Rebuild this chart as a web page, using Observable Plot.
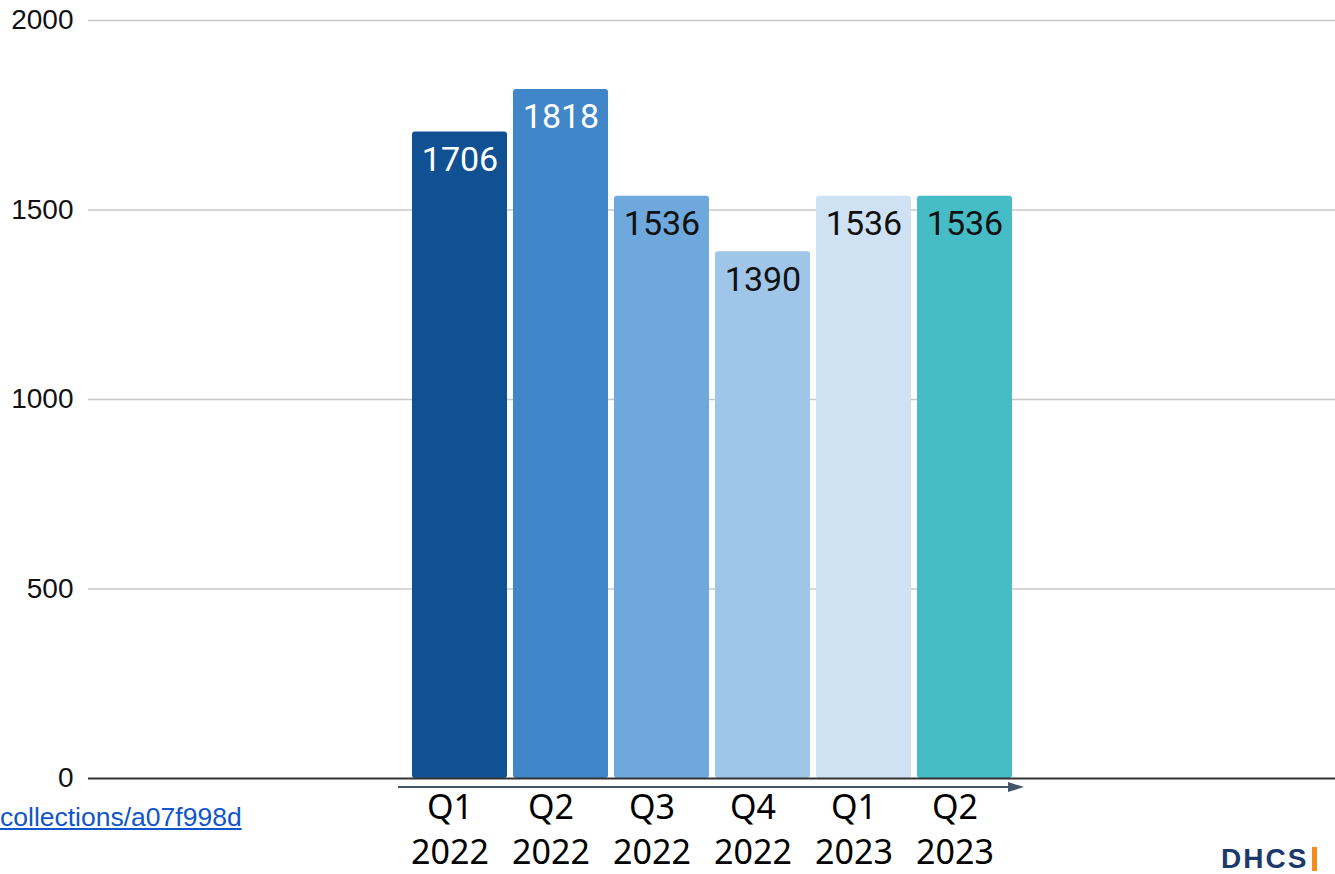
<!DOCTYPE html>
<html>
<head>
<meta charset="utf-8">
<script src="https://cdn.jsdelivr.net/npm/d3@7"></script>
<script src="https://cdn.jsdelivr.net/npm/@observablehq/plot@0.6"></script>
<style>
  html, body { margin: 0; padding: 0; background: #fff; overflow: hidden; }
  #wrap { position: relative; width: 1335px; height: 874px; }
  #link { position: absolute; left: 0; top: 802px; font-family: "Liberation Sans", Arial, sans-serif; font-size: 26.5px; color: #1155cc; text-decoration: underline; white-space: nowrap; }
  #logo { position: absolute; left: 1221px; top: 845px; height: 28px; line-height: 1; font-family: "Liberation Sans", Arial, sans-serif; font-weight: bold; font-size: 28px; color: #1b3a6b; letter-spacing: 2px; white-space: nowrap; }
  #logo .bar { display: inline-block; width: 5px; height: 24px; background: #f28c1e; margin-left: 4px; vertical-align: -3px; }
</style>
</head>
<body>
<div id="wrap">
  <div id="chart"></div>
  <div id="link">collections/a07f998d</div>
  <div id="logo">DHCS<span class="bar"></span></div>
</div>
<script>
const quarters = ["Q1\n2022", "Q2\n2022", "Q3\n2022", "Q4\n2022", "Q1\n2023", "Q2\n2023"];
const counts = [1706, 1818, 1536, 1390, 1536, 1536];
const barColors = ["#0f5193", "#4186c8", "#6fa8dc", "#9fc5e8", "#cfe2f3", "#46bdc6"];
const yTicks = [0, 500, 1000, 1500, 2000];

const data = quarters.map((q, i) => ({quarter: q, count: counts[i]}));
const colorOf = new Map(quarters.map((q, i) => [q, barColors[i]]));
const labelFill = d => d3.lab(colorOf.get(d.quarter)).l < 60 ? "#ffffff" : "#111111";

const plot = Plot.plot({
  width: 1335,
  height: 874,
  marginTop: 20,
  marginBottom: 96,
  marginLeft: 88,
  marginRight: 0,
  style: {background: "#fff"},
  x: {domain: quarters, range: [411, 1013], paddingInner: 0.063, paddingOuter: 0, label: null},
  y: {domain: [0, 2000], ticks: yTicks, label: null},
  color: {domain: quarters, range: barColors},
  marks: [
    Plot.gridY(yTicks.filter(t => t > 0), {stroke: "#c8c8c8", strokeOpacity: 1, strokeWidth: 1.5}),
    Plot.axisY(yTicks, {tickSize: 0, tickPadding: 15, fontSize: 28, tickFormat: d => String(d),
      fontFamily: "Liberation Sans, Arial, sans-serif", fill: "#111", label: null}),
    Plot.barY(data, {x: "quarter", y: "count", fill: "quarter", rx: 3}),
    Plot.ruleY([0], {stroke: "#333", strokeWidth: 2}),
    Plot.text(data, {x: "quarter", y: "count", text: d => String(d.count), dy: 28, fill: labelFill,
      fontSize: 34, fontFamily: "Roboto, sans-serif", lineAnchor: "middle"}),
    Plot.axisX({tickSize: 0, tickPadding: 9, fontSize: 34, lineHeight: 1.32, dx: -10,
      fontFamily: "Noto Sans, sans-serif", fill: "#000", label: null})
  ]
});

document.getElementById("chart").appendChild(plot);

const svg = d3.select(plot);

// Arrow under the category axis, derived from the x scale
const xs = plot.scale("x");
const x0 = xs.apply(quarters[0]) - 14;
const x1 = xs.apply(quarters[quarters.length - 1]) + xs.bandwidth + 12;
const ys = plot.scale("y");
const yA = ys.apply(0) + 9;
svg.append("line")
  .attr("x1", x0).attr("x2", x1 - 14)
  .attr("y1", yA).attr("y2", yA)
  .attr("stroke", "#44546a").attr("stroke-width", 2);
svg.append("path")
  .attr("d", `M${x1},${yA} L${x1 - 16},${yA - 5} L${x1 - 16},${yA + 5} Z`)
  .attr("fill", "#44546a");
</script>
</body>
</html>
